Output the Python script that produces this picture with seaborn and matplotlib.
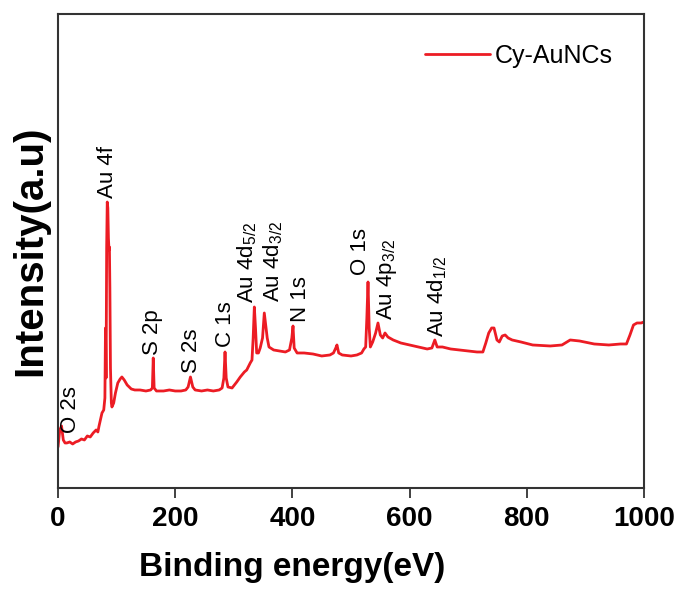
import matplotlib
matplotlib.use("Agg")
import matplotlib.pyplot as plt
import seaborn as sns
import pandas as pd

# XPS survey spectrum (intensity in arbitrary units)
energy = [0, 3, 6, 9, 12, 15, 20, 25, 30, 35, 40, 45, 50, 55, 60, 65, 68, 70, 73, 75,
          78, 80, 81, 82, 83, 84, 85, 86, 87, 87.7, 88.5, 89.5, 91, 92, 95, 98, 102, 106, 109, 113,
          118, 125, 131, 140, 150, 158, 161, 162.5, 164, 168, 180, 190, 200, 210, 218, 222, 226, 230,
          234, 245, 255, 265, 275, 280, 283, 285, 287, 290, 297, 305, 311, 318, 322, 328, 331, 333,
          335, 337, 339, 342, 345, 349, 352, 354, 357, 360, 368, 378, 388, 395, 399, 401, 403, 408,
          420, 435, 450, 464, 470, 474, 476, 479, 485, 500, 510, 518, 522, 525, 527, 529, 531, 533,
          537, 542, 546, 550, 554, 558, 563, 572, 585, 600, 615, 630, 638, 643, 647, 656, 670, 685,
          700, 715, 725, 730, 735, 740, 744, 749, 753, 758, 763, 768, 775, 790, 810, 840, 860, 874,
          890, 915, 940, 960, 970, 976, 982, 988, 995, 1000]
intensity = [41, 58, 62, 48, 45, 45, 46, 44, 46, 47, 49, 48, 52, 51, 55, 58, 56, 62, 70, 75,
             78, 90, 160, 110, 240, 286, 280, 250, 238, 241, 200, 120, 85, 81, 85, 95, 105, 109, 111, 108,
             103, 99, 98, 98, 97, 98, 100, 130, 100, 97, 97, 98, 97, 97, 98, 101, 111, 101,
             98, 97, 98, 97, 98, 100, 110, 136, 110, 101, 100, 106, 111, 116, 118, 125, 128, 150,
             181, 160, 135, 135, 140, 150, 175, 165, 150, 141, 138, 137, 136, 138, 150, 162, 140, 135,
             135, 134, 132, 133, 135, 140, 143, 135, 133, 132, 133, 135, 139, 141, 170, 206, 160, 141,
             146, 155, 165, 153, 150, 155, 151, 148, 145, 143, 141, 139, 140, 148, 141, 141, 139, 138,
             137, 136, 136, 145, 155, 160, 160, 148, 146, 152, 153, 150, 148, 146, 143, 142, 143, 148,
             147, 144, 143, 144, 144, 153, 163, 165, 165, 166]

# peak labels: text, x position (eV), bottom of text (intensity)
peak_names = ["O 2s", "Au 4f", "S 2p", "S 2s", "C 1s", "Au 4d$_{5/2}$", "Au 4d$_{3/2}$",
              "N 1s", "O 1s", "Au 4p$_{3/2}$", "Au 4d$_{1/2}$"]
peak_x = [22, 85, 162, 227, 286, 322, 368, 413, 517, 561, 647]
peak_y = [55, 290, 133, 115, 141, 185, 186, 166, 213, 168, 151]

df = pd.DataFrame({"Binding energy": energy, "Intensity": intensity})

sns.set_style("ticks")
plt.rcParams["font.family"] = ["Liberation Sans", "DejaVu Sans"]
plt.rcParams["mathtext.default"] = "regular"
plt.rcParams["text.color"] = "black"
plt.rcParams["axes.labelcolor"] = "black"
plt.rcParams["xtick.color"] = "#333333"
plt.rcParams["xtick.labelcolor"] = "black"

fig = plt.figure(figsize=(6.81, 5.94), dpi=100)
ax = fig.add_axes([0.0852, 0.1785, 0.8605, 0.7979])

sns.lineplot(data=df, x="Binding energy", y="Intensity", sort=False, ax=ax,
             color="#ec1c24", linewidth=2.0, label="Cy-AuNCs")

for name, px, py in zip(peak_names, peak_x, peak_y):
    ax.text(px, py, name, rotation=90, ha="center", va="bottom", fontsize=16, color="black")

ax.set_xlim(0, 1000)
ax.set_ylim(0, 474)
ax.set_xticks([0, 200, 400, 600, 800, 1000])
ax.set_yticks([])
ax.tick_params(axis="x", direction="out", length=7, width=1.3, pad=6)
for lbl in ax.get_xticklabels():
    lbl.set_fontweight("bold")
    lbl.set_fontsize(20)

for s in ax.spines.values():
    s.set_linewidth(1.5)
    s.set_color("#333333")

ax.set_xlabel("Binding energy(eV)", fontsize=24, fontweight="bold")
ax.xaxis.set_label_coords(0.40, -0.135)
ax.set_ylabel("Intensity(a.u)", fontsize=29, fontweight="bold", labelpad=6)

leg = ax.legend(loc="upper right", frameon=False, fontsize=18, handlelength=2.6,
                handletextpad=0.2, bbox_to_anchor=(0.985, 0.985))

fig.savefig("out.png", dpi=100)
